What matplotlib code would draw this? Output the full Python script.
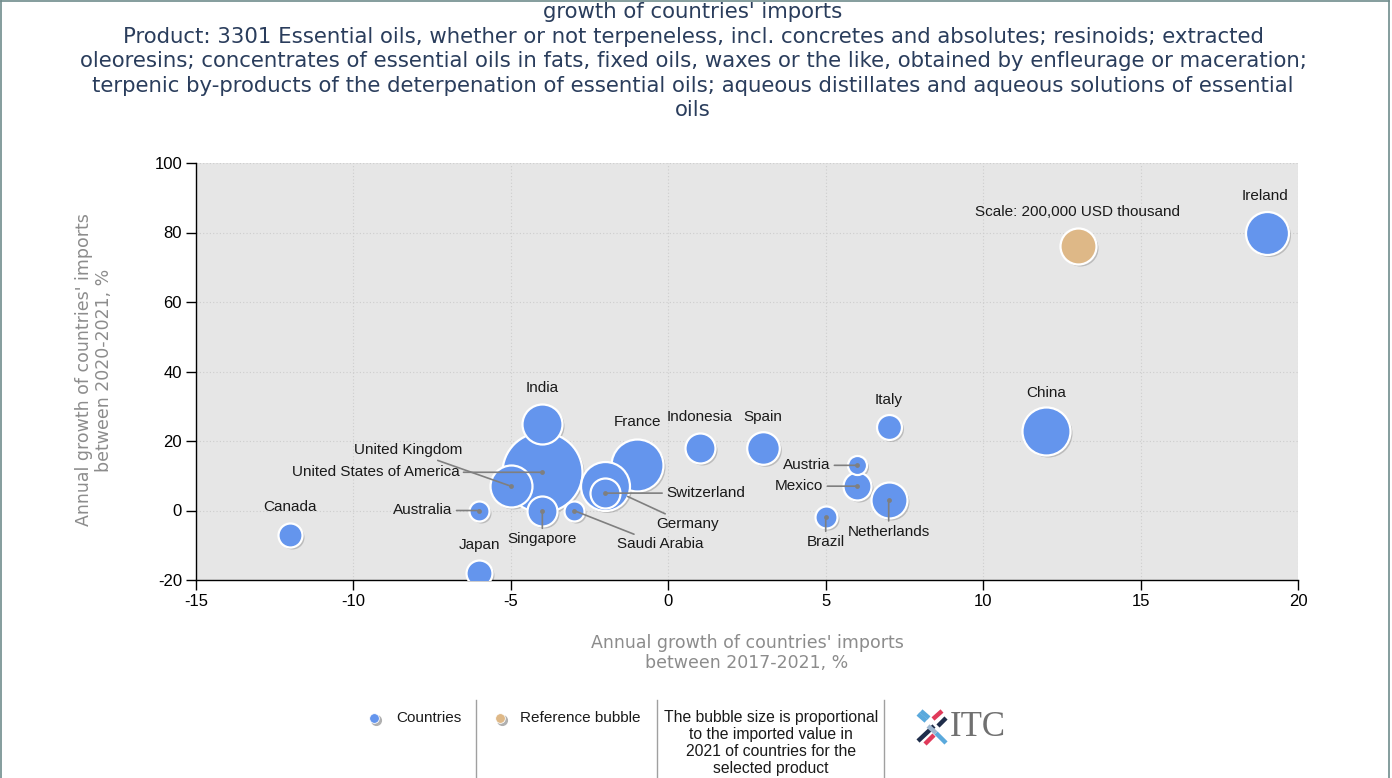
import numpy as np
import matplotlib
matplotlib.use("Agg")
import matplotlib.pyplot as plt
from matplotlib.transforms import offset_copy
from matplotlib.lines import Line2D

plt.rcParams["axes.unicode_minus"] = False

# ---------------- data ----------------
countries = ["United States of America", "France", "Germany", "China", "India",
             "Ireland", "United Kingdom", "Netherlands", "Spain", "Indonesia",
             "Switzerland", "Singapore", "Mexico", "Japan", "Italy", "Canada",
             "Brazil", "Australia", "Saudi Arabia", "Austria"]
growth_2017_2021 = [-4, -1, -2, 12, -4, 19, -5, 7, 3, 1, -2, -4, 6, -6, 7, -12, 5, -6, -3, 6]
growth_2020_2021 = [11, 13, 7, 23, 25, 80, 7, 3, 18, 18, 5, 0, 7, -18, 24, -7, -2, 0, 0, 13]
imports_2021 = [988000, 417000, 370000, 356000, 247000, 285000, 272000, 200000, 164000,
                139000, 139000, 139000, 121000, 104000, 96000, 89000, 75000, 62000,
                62000, 56000]

ref_label = "Scale: 200,000 USD thousand"
ref_x, ref_y, ref_value = 13, 76, 200000

x_ticks = [-15, -10, -5, 0, 5, 10, 15, 20]
y_ticks = [-20, 0, 20, 40, 60, 80, 100]

title_lines = [
    "growth of countries' imports",
    "Product: 3301 Essential oils, whether or not terpeneless, incl. concretes and absolutes; resinoids; extracted",
    "oleoresins; concentrates of essential oils in fats, fixed oils, waxes or the like, obtained by enfleurage or maceration;",
    "terpenic by-products of the deterpenation of essential oils; aqueous distillates and aqueous solutions of essential",
    "oils",
]
x_label = "Annual growth of countries' imports\nbetween 2017-2021, %"
y_label = "Annual growth of countries' imports\nbetween 2020-2021, %"
legend_countries = "Countries"
legend_reference = "Reference bubble"
legend_note = "The bubble size is proportional\nto the imported value in\n2021 of countries for the\nselected product"

# ---------------- layout (label offsets in pixels, y up; leader: None/'center'/'edge') ----
label_layout = {
    "India": (0, 36, "center", None),
    "France": (1, 43, "center", None),
    "Indonesia": (0, 31, "center", None),
    "Spain": (0, 31, "center", None),
    "Italy": (0, 27, "center", None),
    "China": (0, 38, "center", None),
    "Ireland": (-2, 37, "center", None),
    "Canada": (0, 28, "center", None),
    "Japan": (0, 28, "center", None),
    "United Kingdom": (-48, 36, "right", "center"),
    "United States of America": (-83, 0, "right", "center"),
    "Australia": (-27, 0, "right", "center"),
    "Singapore": (0, -29, "center", "center"),
    "Saudi Arabia": (43, -34, "left", "center"),
    "Germany": (51, -38, "left", "edge"),
    "Switzerland": (61, 0, "left", "center"),
    "Austria": (-27, 0, "right", "center"),
    "Mexico": (-34, 0, "right", "center"),
    "Netherlands": (0, -32, "center", "center"),
    "Brazil": (0, -25, "center", "center"),
}

W, H = 1392, 778
DPI = 100
fig = plt.figure(figsize=(W / DPI, H / DPI), dpi=DPI)
fig.patch.set_facecolor("white")

def fx(px):
    return px / W

def fy(py):
    return 1 - py / H

ax = fig.add_axes([fx(196), fy(580), (1298 - 196) / W, (580 - 163) / H])
ax.set_facecolor("#e6e6e6")
ax.set_xlim(-15, 20)
ax.set_ylim(-20, 100)
ax.set_xticks(x_ticks)
ax.set_yticks(y_ticks)
for s in ["top", "right"]:
    ax.spines[s].set_visible(False)
for s in ["left", "bottom"]:
    ax.spines[s].set_color("black")
    ax.spines[s].set_linewidth(1.0)
ax.grid(True, color="#cdcdcd", linestyle=(0, (1, 2)), linewidth=0.8)
ax.set_axisbelow(True)
ax.tick_params(axis="both", direction="out", length=7, width=1, color="black",
               labelsize=12, labelcolor="black", pad=3)
for lab in ax.get_xticklabels() + ax.get_yticklabels():
    lab.set_fontfamily("Liberation Sans")

REF_R = 18.0  # pixel radius of the reference bubble

def radius_px(v):
    return REF_R * np.sqrt(np.asarray(v, dtype=float) / ref_value)

def size_pts(v):
    return (2 * radius_px(v) * 72 / DPI) ** 2

order = np.argsort(imports_2021)[::-1]
xs = np.array(growth_2017_2021, dtype=float)[order]
ys = np.array(growth_2020_2021, dtype=float)[order]
ss = size_pts(np.array(imports_2021)[order])

shadow_tr = offset_copy(ax.transData, fig=fig, x=2, y=-2, units="dots")
for x, y, s in zip(xs, ys, ss):
    ax.scatter([x], [y], s=s, color="#9a9a9a", alpha=0.55, linewidths=0,
               transform=shadow_tr, zorder=2)
    ax.scatter([x], [y], s=s, color="#6495ed", edgecolors="white",
               linewidths=1.6, zorder=3)

ax.scatter([ref_x], [ref_y], s=size_pts(ref_value), color="#9a9a9a", alpha=0.55,
           linewidths=0, transform=shadow_tr, zorder=2)
ax.scatter([ref_x], [ref_y], s=size_pts(ref_value), color="#deb887",
           edgecolors="white", linewidths=1.6, zorder=3)
ax.annotate(ref_label, (ref_x, ref_y), xytext=(0, 34), textcoords="offset pixels",
            ha="center", va="center", fontsize=11, family="Liberation Sans",
            color="#1a1a1a", zorder=6)

for name, x, y, v in zip(countries, growth_2017_2021, growth_2020_2021, imports_2021):
    dx, dy, ha, leader = label_layout[name]
    kw = {}
    if leader is not None:
        shrink_b = 0 if leader == "center" else float(radius_px(v)) * 72 / DPI
        kw["arrowprops"] = dict(arrowstyle="-", color="#7f7f7f", lw=1.2,
                                shrinkA=1, shrinkB=shrink_b)
        if leader == "center":
            ax.scatter([x], [y], s=12, color="#7f7f7f", zorder=5, linewidths=0)
    ax.annotate(name, (x, y), xytext=(dx, dy), textcoords="offset pixels",
                ha=ha, va="center", fontsize=11, family="Liberation Sans",
                color="#1a1a1a", zorder=6, **kw)

# axis titles
fig.text(fx(747), fy(653), x_label, ha="center", va="center", fontsize=12.5,
         color="#8c8c8c", family="DejaVu Sans", linespacing=1.1)
fig.text(fx(94), fy(370), y_label, ha="center", va="center", fontsize=12.5,
         color="#8c8c8c", family="DejaVu Sans", rotation=90, linespacing=1.1)

# title
title_y = [12, 37, 61, 86, 110]
for t, ty in zip(title_lines, title_y):
    fig.text(fx(693), fy(ty), t, ha="center", va="center", fontsize=15.3,
             color="#2a3d5c", family="DejaVu Sans")

# legend area
for lx, c in [(374, "#6495ed"), (500, "#deb887")]:
    fig.add_artist(Line2D([fx(lx + 1.5)], [fy(719.5)], marker="o", markersize=7,
                          color="#b0b0b0", markeredgecolor="#b0b0b0", linestyle="none"))
    fig.add_artist(Line2D([fx(lx)], [fy(718)], marker="o", markersize=7,
                          color=c, markeredgecolor="white", markeredgewidth=0.6,
                          linestyle="none"))
fig.text(fx(396), fy(718), legend_countries, ha="left", va="center", fontsize=11,
         family="Liberation Sans", color="#1a1a1a")
fig.text(fx(520), fy(718), legend_reference, ha="left", va="center", fontsize=11,
         family="Liberation Sans", color="#1a1a1a")
fig.text(fx(771), fy(743), legend_note, ha="center", va="center", fontsize=11.3,
         family="Liberation Sans", color="#1a1a1a", linespacing=1.17)
for sx in [476, 657, 884]:
    fig.add_artist(Line2D([fx(sx), fx(sx)], [fy(700), fy(778)], color="#a0a0a0", lw=1))

# ITC logo
logo_segments = [
    ((918, 714), (926, 721), "#5aa9dc"),
    ((921, 711), (929, 718), "#5aa9dc"),
    ((942, 711), (933, 719), "#e03a5a"),
    ((946, 718), (938, 726), "#1f2d4a"),
    ((918, 741), (934, 726), "#1f2d4a"),
    ((925, 744), (934, 735), "#e03a5a"),
    ((936, 733), (946, 743), "#5aa9dc"),
    ((928, 726), (936, 733), "#9fb7cf"),
]
for (x0, y0), (x1, y1), c in logo_segments:
    fig.add_artist(Line2D([fx(x0), fx(x1)], [fy(y0), fy(y1)], color=c, lw=3.2,
                          solid_capstyle="butt"))
fig.text(fx(950), fy(728), "ITC", ha="left", va="center", fontsize=25,
         family="Liberation Serif", color="#707070")

# figure border (left, top, right)
border_c = "#6f8c8c"
fig.add_artist(Line2D([fx(1), fx(1)], [fy(778), fy(1)], color=border_c, lw=1.2))
fig.add_artist(Line2D([fx(1), fx(1389)], [fy(1), fy(1)], color=border_c, lw=1.2))
fig.add_artist(Line2D([fx(1389), fx(1389)], [fy(1), fy(778)], color=border_c, lw=1.2))

fig.savefig("out.png", dpi=DPI, facecolor="white")
